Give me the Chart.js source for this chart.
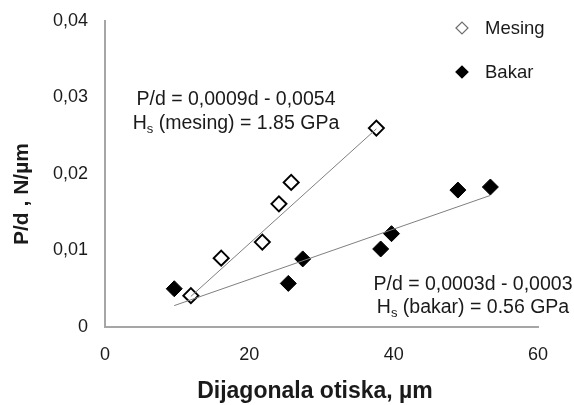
<!DOCTYPE html>
<html>
<head>
<meta charset="utf-8">
<script src="https://cdn.jsdelivr.net/npm/chart.js@4"></script>
<style>
html,body{margin:0;padding:0;background:#fff;}
#wrap{width:574px;height:405px;position:relative;}
</style>
</head>
<body>
<div id="wrap"><canvas id="c" width="574" height="405"></canvas></div>
<script>
// Data
const mesingD = [11.9, 16.1, 21.8, 24.1, 25.8, 37.6];
const mesingP = [0.0041, 0.0090, 0.0111, 0.0161, 0.0189, 0.0260];
const bakarD = [9.6, 25.4, 27.4, 38.2, 39.7, 48.9, 53.4];
const bakarP = [0.0050, 0.0057, 0.0089, 0.0102, 0.0122, 0.0179, 0.0183];
const mesingTrendD = [11.9, 37.6];
const mesingTrendP = [0.0040, 0.0259];
const bakarTrendD = [9.6, 53.4];
const bakarTrendP = [0.0028, 0.0172];
const xTicks = [0, 20, 40, 60];
const yTicks = [0, 0.01, 0.02, 0.03, 0.04];
const yTickLabels = ['0', '0,01', '0,02', '0,03', '0,04'];
const seriesNames = ['Mesing', 'Bakar'];
const xTitle = 'Dijagonala otiska, µm';
const yTitle = 'P/d , N/µm';
const eqMesing = ['P/d = 0,0009d - 0,0054', 'H', 's', ' (mesing) = 1.85 GPa'];
const eqBakar = ['P/d = 0,0003d - 0,0003', 'H', 's', ' (bakar) = 0.56 GPa'];

const FONT = "'Liberation Sans', Arial, sans-serif";
const toPts = (xs, ys) => xs.map((x, i) => ({x: x, y: ys[i]}));

const overlay = {
  id: 'overlay',
  afterDraw(chart) {
    const ctx = chart.ctx;
    ctx.save();
    // Axis titles
    ctx.fillStyle = '#1a1a1a';
    ctx.font = 'bold 23px ' + FONT;
    ctx.textAlign = 'center'; ctx.textBaseline = 'middle';
    ctx.fillText(xTitle, 315, 392);
    ctx.save();
    ctx.translate(22, 194);
    ctx.rotate(-Math.PI / 2);
    ctx.font = 'bold 21px ' + FONT;
    ctx.fillText(yTitle, 0, 0);
    ctx.restore();
    // Legend
    const items = [
      {name: seriesNames[0], fill: '#ffffff', stroke: '#6e6e6e', y: 28},
      {name: seriesNames[1], fill: '#000000', stroke: '#000000', y: 72}
    ];
    items.forEach(it => {
      const cx = 462, r = 6;
      ctx.beginPath();
      ctx.moveTo(cx - r, it.y); ctx.lineTo(cx, it.y - r); ctx.lineTo(cx + r, it.y); ctx.lineTo(cx, it.y + r); ctx.closePath();
      ctx.fillStyle = it.fill; ctx.fill();
      ctx.lineWidth = 1.2; ctx.strokeStyle = it.stroke; ctx.stroke();
      ctx.fillStyle = '#1a1a1a';
      ctx.font = '18.5px ' + FONT;
      ctx.textAlign = 'left'; ctx.textBaseline = 'middle';
      ctx.fillText(it.name, 485, it.y + 1);
    });
    // Equations
    function eq(parts, cx, y1, y2) {
      const big = '19.5px ' + FONT, small = '13px ' + FONT;
      ctx.fillStyle = '#1a1a1a';
      ctx.textBaseline = 'middle';
      ctx.font = big;
      ctx.textAlign = 'center';
      ctx.fillText(parts[0], cx, y1);
      ctx.textAlign = 'left';
      ctx.font = big; const w1 = ctx.measureText(parts[1]).width;
      ctx.font = small; const w2 = ctx.measureText(parts[2]).width;
      ctx.font = big; const w3 = ctx.measureText(parts[3]).width;
      let x = cx - (w1 + w2 + w3) / 2;
      ctx.font = big; ctx.fillText(parts[1], x, y2); x += w1;
      ctx.font = small; ctx.fillText(parts[2], x, y2 + 5); x += w2;
      ctx.font = big; ctx.fillText(parts[3], x, y2);
    }
    eq(eqMesing, 236, 100, 124);
    eq(eqBakar, 473, 285, 308);
    ctx.restore();
  }
};

new Chart(document.getElementById('c'), {
  type: 'scatter',
  data: {
    datasets: [
      {label: 'Mesing trend', data: toPts(mesingTrendD, mesingTrendP), showLine: true, borderColor: '#7f7f7f', borderWidth: 1, pointRadius: 0, fill: false},
      {label: 'Bakar trend', data: toPts(bakarTrendD, bakarTrendP), showLine: true, borderColor: '#7f7f7f', borderWidth: 1, pointRadius: 0, fill: false},
      {label: seriesNames[0], data: toPts(mesingD, mesingP), pointStyle: 'rectRot', pointRadius: 7.5, backgroundColor: '#ffffff', borderColor: '#000000', borderWidth: 2},
      {label: seriesNames[1], data: toPts(bakarD, bakarP), pointStyle: 'rectRot', pointRadius: 8, backgroundColor: '#000000', borderColor: '#000000', borderWidth: 1}
    ]
  },
  options: {
    responsive: false,
    animation: false,
    clip: false,
    layout: {padding: {left: 0, right: 36, top: 21, bottom: 0}},
    plugins: {legend: {display: false}, tooltip: {enabled: false}},
    scales: {
      x: {
        type: 'linear', min: 0, max: 60,
        afterBuildTicks: s => { s.ticks = xTicks.map(v => ({value: v})); },
        afterFit: s => { s.height = 78; s.paddingLeft = 0; s.paddingRight = 0; },
        grid: {display: false, drawTicks: false},
        border: {display: true, color: '#a6a6a6', width: 2},
        ticks: {padding: 17, color: '#1a1a1a', font: {family: FONT, size: 18}, maxRotation: 0},
        title: {display: false}
      },
      y: {
        type: 'linear', min: 0, max: 0.04,
        afterBuildTicks: s => { s.ticks = yTicks.map(v => ({value: v})); },
        afterFit: s => { s.width = 105; s.paddingTop = 0; s.paddingBottom = 0; },
        grid: {display: false, drawTicks: false},
        border: {display: true, color: '#a6a6a6', width: 2},
        ticks: {padding: 17, color: '#1a1a1a', font: {family: FONT, size: 18},
          callback: (v) => { const i = yTicks.findIndex(t => Math.abs(t - v) < 1e-9); return i >= 0 ? yTickLabels[i] : ''; }},
        title: {display: false}
      }
    }
  },
  plugins: [overlay]
});
</script>
</body>
</html>
